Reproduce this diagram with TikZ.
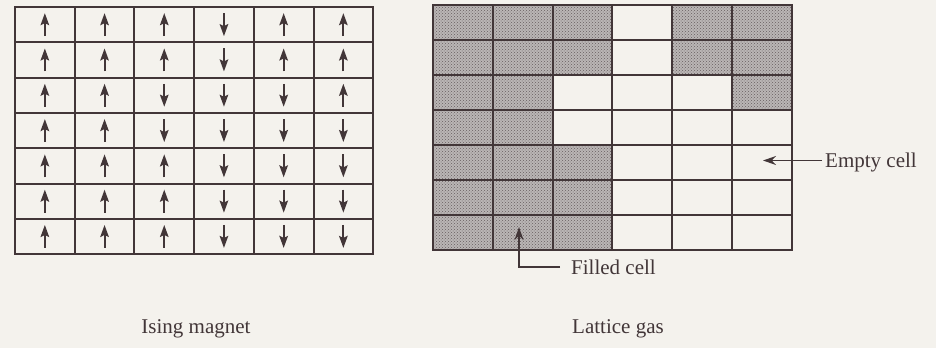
\documentclass[tikz,border=0pt]{standalone}
\usepackage{fontspec}
\setmainfont{Liberation Serif}
\usetikzlibrary{arrows.meta,patterns}
\definecolor{ink}{RGB}{66,54,56}
\definecolor{paper}{RGB}{244,242,237}
\definecolor{stipple}{RGB}{186,182,181}

\begin{document}
\begin{tikzpicture}[x=1pt, y=-1pt,
  font=\fontsize{21}{24}\selectfont,
  grid/.style={draw=ink, line width=2pt, line cap=rect},
  spin/.style={draw=ink, line width=2pt, -{Stealth[length=12pt, width=8.5pt, inset=2pt]}},
  filled/.style={fill=stipple},
  dots/.style={pattern=crosshatch dots, pattern color=ink!80},
  lbl/.style={text=ink, inner sep=0pt, text depth=0pt},
  pointer/.style={draw=ink, line width=1.6pt, -{Stealth[length=13pt, width=9pt]}},
]
\fill[paper] (0,0) rectangle (936,348);
\useasboundingbox (0,0) rectangle (936,348);
% spins (left) and occupied sites (right), row by row from the top
\foreach \row [count=\r] in {{1,1,1,-1,1,1},{1,1,1,-1,1,1},{1,1,-1,-1,-1,1},{1,1,-1,-1,-1,-1},{1,1,1,-1,-1,-1},{1,1,1,-1,-1,-1},{1,1,1,-1,-1,-1}}
  \foreach \s [count=\c] in \row {
    \draw[spin] ({15+59.7*(\c-0.5)}, {7+35.3*(\r-0.5)+11.5*\s}) -- ++(0,{-23*\s});
    \ifnum\s=1
      \fill[filled] ({433+59.83*(\c-1)},{5+35*(\r-1)}) rectangle ++(59.83,35);
      \fill[dots] ({433+59.83*(\c-1)},{5+35*(\r-1)}) rectangle ++(59.83,35);
    \fi
  }
% lattices
\foreach \i in {0,...,6} {
  \draw[grid] ({15+59.7*\i},7) -- ++(0,247);
  \draw[grid] ({433+59.83*\i},5) -- ++(0,245);
}
\foreach \j in {0,...,7} {
  \draw[grid] (15,{7+35.3*\j}) -- ++(358,0);
  \draw[grid] (433,{5+35*\j}) -- ++(359,0);
}
\node[lbl, anchor=base] (ising) at (196,333) {Ising magnet};
\node[lbl, anchor=base] (gas) at (618,333) {Lattice gas};
\node[lbl, anchor=west] (empty) at (825,160.5) {Empty cell};
\node[lbl, anchor=west] (filledlbl) at (571,267) {Filled cell};
\coordinate (emptytip) at (763,160.5);
\coordinate (filledtip) at (519,227);
\draw[pointer, shorten <=3pt] (empty.west) -- (emptytip);
\draw[pointer, shorten <=11pt] (filledlbl.west) -| (filledtip);
\end{tikzpicture}
\end{document}
